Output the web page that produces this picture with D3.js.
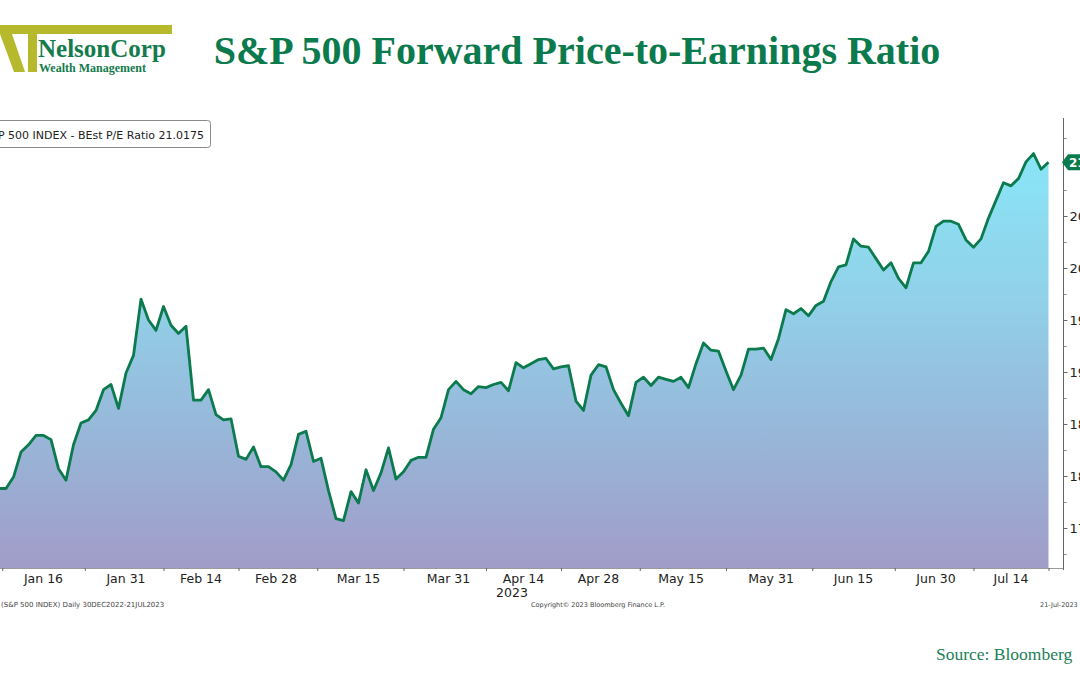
<!DOCTYPE html>
<html>
<head>
<meta charset="utf-8">
<script src="https://cdn.jsdelivr.net/npm/d3@7/dist/d3.min.js"></script>
<style>
  html, body { margin: 0; padding: 0; background: #ffffff; }
  svg { display: block; }
</style>
</head>
<body>
<svg id="chart" width="1080" height="675"></svg>
<script>
// ---------------- DATA ----------------
const seriesName = "S&P 500 INDEX - BEst P/E Ratio 21.0175";
const rangeStart = "2022-12-30";   // first day of the Bloomberg window
const rangeEnd = "2023-07-21";     // last day of the Bloomberg window
const firstVisibleDate = "2023-01-06"; // first value readable in the picture
// daily (weekday) BEst forward P/E values, from firstVisibleDate to rangeEnd
const peValues = [
  17.88, 17.88, 17.99, 18.23, 18.30, 18.39, 18.39, 18.35, 18.07, 17.96,
  18.30, 18.51, 18.54, 18.63, 18.83, 18.88, 18.65, 18.99, 19.16, 19.70,
  19.50, 19.40, 19.63, 19.45, 19.37, 19.44, 18.73, 18.73, 18.83, 18.59,
  18.54, 18.55, 18.19, 18.16, 18.28, 18.09, 18.09, 18.04, 17.96, 18.11,
  18.40, 18.43, 18.14, 18.17, 17.86, 17.59, 17.57, 17.85, 17.74, 18.06,
  17.86, 18.03, 18.27, 17.97, 18.04, 18.15, 18.18, 18.18, 18.45, 18.56,
  18.83, 18.91, 18.83, 18.79, 18.86, 18.85, 18.88, 18.90, 18.82, 19.09,
  19.04, 19.08, 19.12, 19.13, 19.03, 19.05, 19.06, 18.72, 18.63, 18.97,
  19.07, 19.05, 18.83, 18.70, 18.58, 18.90, 18.95, 18.87, 18.95, 18.93,
  18.91, 18.95, 18.85, 19.08, 19.28, 19.21, 19.20, 19.01, 18.83, 18.97,
  19.22, 19.22, 19.23, 19.12, 19.32, 19.60, 19.56, 19.61, 19.54, 19.64,
  19.68, 19.87, 20.01, 20.03, 20.28, 20.21, 20.20, 20.09, 19.98, 20.05,
  19.90, 19.81, 20.05, 20.05, 20.16, 20.40, 20.45, 20.45, 20.42, 20.27,
  20.20, 20.28, 20.48, 20.65, 20.82, 20.79, 20.86, 21.02, 21.10, 20.95,
  21.0175
];
const lastValueLabel = "21.0175";
const xTickDates = ["2023-01-16","2023-01-31","2023-02-14","2023-02-28","2023-03-15","2023-03-31",
                    "2023-04-14","2023-04-28","2023-05-15","2023-05-31","2023-06-15","2023-06-30","2023-07-14"];
const xTickLabels = ["Jan 16","Jan 31","Feb 14","Feb 28","Mar 15","Mar 31",
                     "Apr 14","Apr 28","May 15","May 31","Jun 15","Jun 30","Jul 14"];
const yearLabel = "2023";
const yMajorTicks = [17.5, 18.0, 18.5, 19.0, 19.5, 20.0, 20.5];
const yMajorLabels = ["17.5","18.0","18.5","19.0","19.5","20.0","20.5"];
const yMinorTicks = [17.25, 17.75, 18.25, 18.75, 19.25, 19.75, 20.25, 20.75, 21.25];
const titleText = "S&P 500 Forward Price-to-Earnings Ratio";
const footerLeft = "(S&P 500 INDEX)  Daily 30DEC2022-21JUL2023";
const footerMid = "Copyright\u00A9 2023 Bloomberg Finance L.P.";
const footerRight = "21-Jul-2023";
const sourceText = "Source: Bloomberg";

// ---------------- HELPERS ----------------
const parse = d3.utcParse("%Y-%m-%d");
const t0 = parse(rangeStart);
function weekdayIndex(dateStr) {
  // number of weekdays from rangeStart to the date (Bloomberg daily axis)
  const d = parse(dateStr);
  return d3.utcDay.range(t0, d).filter(x => x.getUTCDay() !== 0 && x.getUTCDay() !== 6).length;
}
const startIdx = weekdayIndex(firstVisibleDate);
const endIdx = weekdayIndex(rangeEnd);
const data = peValues.map((v, k) => ({ i: startIdx + k, v }));

// ---------------- SCALES ----------------
const svg = d3.select("#chart");
const plotBottom = 568, plotTop = 118, axisX = 1063;
const x = d3.scaleLinear().domain([0, endIdx]).range([-39, 1048.5]);
const y = d3.scaleLinear().domain([17.5, 20.5]).range([528, 216]);

const green = "#0b7a4d";

// ---------------- HEADER ----------------
// logo
const olive = "#b6b92c";
const logo = svg.append("g");
logo.append("rect").attr("x", 0).attr("y", 25).attr("width", 172).attr("height", 9).attr("fill", olive);
logo.append("path").attr("d", "M0,34 L12,34 L25,72 L14,72 Z").attr("fill", olive);
logo.append("rect").attr("x", 28).attr("y", 34).attr("width", 9).attr("height", 38).attr("fill", olive);
logo.append("text").attr("x", 38).attr("y", 57).attr("font-family", "Liberation Serif")
  .attr("font-weight", "bold").attr("font-size", 25).attr("fill", "#137b4c").text("NelsonCorp");
logo.append("text").attr("x", 39).attr("y", 72).attr("font-family", "Liberation Serif")
  .attr("font-weight", "bold").attr("font-size", 12).attr("fill", "#137b4c").text("Wealth Management");

svg.append("text").attr("x", 577).attr("y", 64).attr("text-anchor", "middle")
  .attr("font-family", "Liberation Serif").attr("font-weight", "bold").attr("font-size", 40)
  .attr("fill", green).text(titleText);

// ---------------- AREA + LINE ----------------
const defs = svg.append("defs");
const grad = defs.append("linearGradient").attr("id", "fillGrad")
  .attr("gradientUnits", "userSpaceOnUse").attr("x1", 0).attr("y1", 150).attr("x2", 0).attr("y2", plotBottom);
[["0", "#89e6f7"], ["0.35", "#91d1e9"], ["0.7", "#98b5d8"], ["1", "#a19cc8"]].forEach(([o, c]) =>
  grad.append("stop").attr("offset", o).attr("stop-color", c));

const area = d3.area().x(d => x(d.i)).y0(plotBottom).y1(d => y(d.v));
const line = d3.line().x(d => x(d.i)).y(d => y(d.v));

svg.append("path").datum(data).attr("d", area).attr("fill", "url(#fillGrad)");
svg.append("path").datum(data).attr("d", line).attr("fill", "none")
  .attr("stroke", green).attr("stroke-width", 2.8).attr("stroke-linejoin", "round");

// ---------------- AXES ----------------
const axisCol = "#666";
svg.append("line").attr("x1", 0).attr("x2", axisX).attr("y1", plotBottom + 0.5).attr("y2", plotBottom + 0.5)
  .attr("stroke", "#9a9a9a").attr("stroke-width", 1);
svg.append("line").attr("x1", axisX + 0.5).attr("x2", axisX + 0.5).attr("y1", plotTop).attr("y2", plotBottom + 2)
  .attr("stroke", axisCol).attr("stroke-width", 1);

// y axis (right)
const yAxis = d3.axisRight(y).tickValues(yMajorTicks).tickSize(4).tickPadding(2)
  .tickFormat((d, k) => yMajorLabels[k]);
const gy = svg.append("g").attr("transform", `translate(${axisX + 0.5},0)`).call(yAxis);
gy.select(".domain").remove();
gy.selectAll("line").attr("stroke", axisCol);
gy.selectAll("text").attr("font-family", "DejaVu Sans").attr("font-size", 13).attr("fill", "#222");
const gyMinor = svg.append("g").attr("transform", `translate(${axisX + 0.5},0)`)
  .call(d3.axisRight(y).tickValues(yMinorTicks).tickSize(3).tickFormat(""));
gyMinor.select(".domain").remove();
gyMinor.selectAll("line").attr("stroke", "#888");

// x axis labels (centered on dates) and ticks between them
const labelIdx = xTickDates.map(weekdayIndex);
const tickIdx = [];
tickIdx.push(labelIdx[0] - (labelIdx[1] - labelIdx[0]) / 2);
for (let k = 0; k < labelIdx.length - 1; k++) tickIdx.push((labelIdx[k] + labelIdx[k + 1]) / 2);
tickIdx.push(labelIdx[labelIdx.length - 1] + (labelIdx[labelIdx.length - 1] - labelIdx[labelIdx.length - 2]) / 2);

const gx = svg.append("g").attr("transform", `translate(0,${plotBottom})`)
  .call(d3.axisBottom(x).tickValues(tickIdx).tickSize(3).tickFormat(""));
gx.select(".domain").remove();
gx.selectAll("line").attr("stroke", axisCol);

svg.append("g").selectAll("text").data(labelIdx).join("text")
  .attr("x", d => x(d)).attr("y", 583).attr("text-anchor", "middle")
  .attr("font-family", "DejaVu Sans").attr("font-size", 12.5).attr("fill", "#222")
  .text((d, k) => xTickLabels[k]);
svg.append("text").attr("x", 512).attr("y", 597).attr("text-anchor", "middle")
  .attr("font-family", "DejaVu Sans").attr("font-size", 12.5).attr("fill", "#222").text(yearLabel);

// last value tag
const lastY = y(peValues[peValues.length - 1]);
svg.append("path")
  .attr("d", `M${axisX - 1},${lastY} L${axisX + 5},${lastY - 8} L${axisX + 60},${lastY - 8} L${axisX + 60},${lastY + 8} L${axisX + 5},${lastY + 8} Z`)
  .attr("fill", green);
svg.append("text").attr("x", axisX + 6).attr("y", lastY + 4.5)
  .attr("font-family", "DejaVu Sans").attr("font-weight", "bold").attr("font-size", 12).attr("fill", "#fff")
  .text(lastValueLabel);

// legend box
svg.append("rect").attr("x", -20.5).attr("y", 120.5).attr("width", 231).attr("height", 27).attr("rx", 3)
  .attr("fill", "#fff").attr("stroke", "#8a8a8a").attr("stroke-width", 1);
svg.append("text").attr("x", 204).attr("y", 138.5).attr("text-anchor", "end")
  .attr("font-family", "DejaVu Sans").attr("font-size", 11).attr("fill", "#222").text(seriesName);

// footer
const foot = svg.append("g").attr("font-family", "DejaVu Sans").attr("fill", "#444");
foot.append("text").attr("x", 1).attr("y", 607).attr("font-size", 7).text(footerLeft);
foot.append("text").attr("x", 598).attr("y", 607).attr("font-size", 6.5).attr("text-anchor", "middle").text(footerMid);
foot.append("text").attr("x", 1040).attr("y", 607).attr("font-size", 6.5).text(footerRight);

svg.append("text").attr("x", 936).attr("y", 660).attr("font-family", "Liberation Serif")
  .attr("font-size", 17.5).attr("fill", "#1b7f57").text(sourceText);
</script>
</body>
</html>
